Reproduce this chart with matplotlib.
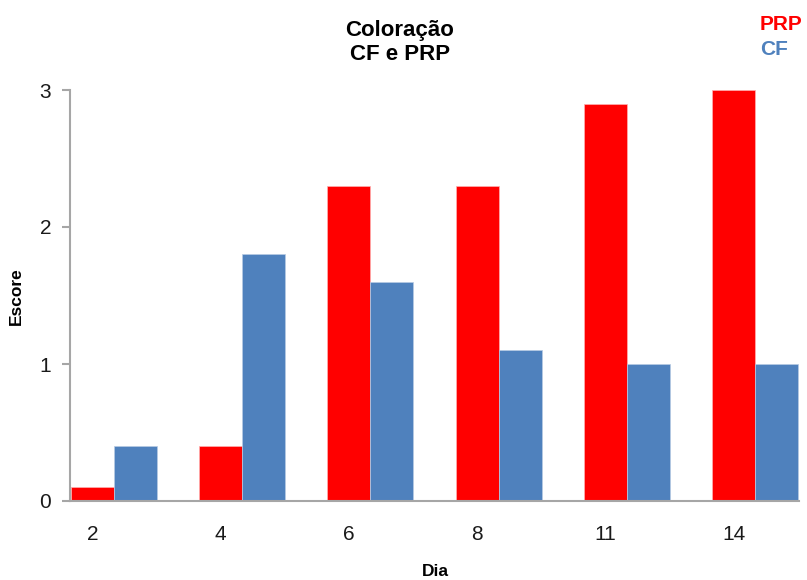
import matplotlib
matplotlib.use("Agg")
import matplotlib.pyplot as plt
import numpy as np

plt.rcParams['font.family'] = ['Liberation Sans', 'DejaVu Sans']

categories = ["2", "4", "6", "8", "11", "14"]
prp = [0.1, 0.4, 2.3, 2.3, 2.9, 3.0]
cf = [0.4, 1.8, 1.6, 1.1, 1.0, 1.0]
yticks = [0, 1, 2, 3]

RED = "#FF0000"
BLUE = "#4F81BD"
GRAY = "#A6A6A6"
TXT = "#1a1a1a"

W, H = 807, 580
fig = plt.figure(figsize=(W / 100, H / 100), dpi=100)
ax = fig.add_axes([70 / W, 1 - 501 / H, (799 - 70) / W, (501 - 90) / H])

x = np.arange(len(categories))
w = 0.335
ax.bar(x, prp, width=w, color=RED, edgecolor="#ffb0b0", linewidth=0.5, zorder=2)
ax.bar(x + w, cf, width=w, color=BLUE, edgecolor="#b8cbe4", linewidth=0.5, zorder=2)

ax.set_xlim(-0.175, 5.51)
ax.set_ylim(0, 3)
ax.set_xticks(x)
ax.set_xticklabels(categories)
ax.set_yticks(yticks)
ax.set_yticklabels([str(t) for t in yticks])

for s in ["top", "right"]:
    ax.spines[s].set_visible(False)
for s in ["left", "bottom"]:
    ax.spines[s].set_color(GRAY)
    ax.spines[s].set_linewidth(1.5)

ax.tick_params(axis="x", length=0, pad=17, labelsize=15, labelcolor=TXT)
ax.tick_params(axis="y", length=5.5, width=1.5, color=GRAY, pad=8, labelsize=15, labelcolor=TXT)

# Title
fig.text(400 / W, 1 - 36 / H, "Coloração", ha="center", va="baseline",
         fontsize=16, fontweight="bold", color="black")
fig.text(400 / W, 1 - 60 / H, "CF e PRP", ha="center", va="baseline",
         fontsize=16, fontweight="bold", color="black")

# Legend as text
fig.text(760 / W, 1 - 30.5 / H, "PRP", ha="left", va="baseline",
         fontsize=15, fontweight="bold", color=RED)
fig.text(760 / W, 1 - 55 / H, "CF", ha="left", va="baseline",
         fontsize=15, fontweight="bold", color=BLUE)

# Axis labels
fig.text(16 / W, 1 - 296 / H, "Escore", ha="center", va="center", rotation=90,
         fontsize=12.5, fontweight="bold", color="black")
fig.text(435 / W, 1 - 571 / H, "Dia", ha="center", va="center",
         fontsize=12.5, fontweight="bold", color="black")

fig.savefig("out.png", dpi=100)
